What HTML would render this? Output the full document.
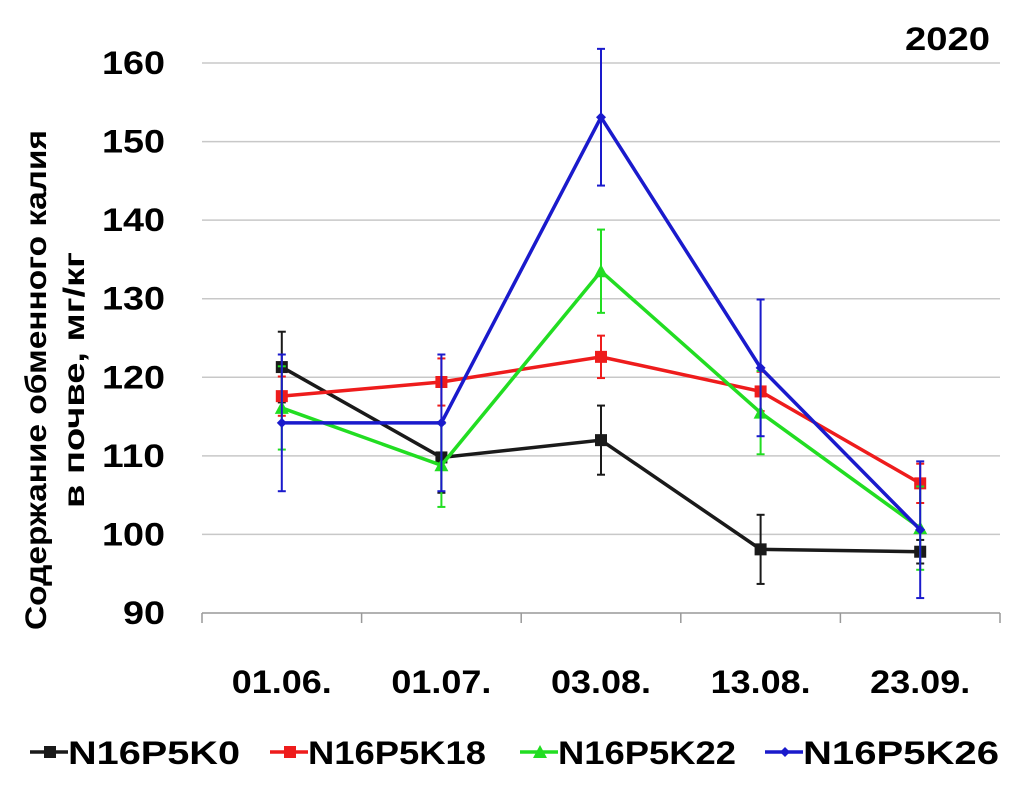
<!DOCTYPE html>
<html><head><meta charset="utf-8"><style>
body{margin:0;background:#fff;width:1022px;height:799px;overflow:hidden}
svg text{font-family:"Liberation Sans",sans-serif}
</style></head><body>
<svg id="c" width="1022" height="799">
<text x="990" y="50" font-size="32" font-weight="bold" text-anchor="end" textLength="85" lengthAdjust="spacingAndGlyphs">2020</text>
<g transform="translate(46,380) rotate(-90)">
<text x="-250" y="0" font-size="30" textLength="500" lengthAdjust="spacingAndGlyphs" style="font-weight:bold">Содержание обменного калия</text>
<text x="-128" y="38" font-size="30" textLength="256" lengthAdjust="spacingAndGlyphs" style="font-weight:bold">в почве, мг/кг</text>
</g>
</svg>
<script>
const categories=["01.06.","01.07.","03.08.","13.08.","23.09."];
const yTicks=[90,100,110,120,130,140,150,160];
const seriesNames=["N16P5K0","N16P5K18","N16P5K22","N16P5K26"];
const seriesColors=["#1a1a1a","#ee1c1c","#22dd22","#1a1acc"];
const k0=[121.3,109.8,112.0,98.1,97.8];
const k18=[117.6,119.4,122.6,118.2,106.5];
const k22=[116.1,108.8,133.5,115.5,100.8];
const k26=[114.2,114.2,153.1,121.2,100.6];
const err0=[4.5,4.5,4.4,4.4,1.5];
const err18=[2.5,3.0,2.7,2.5,2.5];
const err22=[5.3,5.3,5.3,5.3,5.3];
const err26=[8.7,8.7,8.7,8.7,8.7];
const series=[k0,k18,k22,k26], errs=[err0,err18,err22,err26];
const svg=document.getElementById('c'), NS="http://www.w3.org/2000/svg";
const x0=202,x1=1000,yTop=63,yBot=613;
const y=v=>yBot-(v-90)/70*(yBot-yTop);
const bw=(x1-x0)/categories.length;
const x=i=>x0+bw*(i+0.5);
function mk(t,a,p){const e=document.createElementNS(NS,t);for(const k in a)e.setAttribute(k,a[k]);(p||svg).appendChild(e);return e;}
yTicks.forEach(t=>{
 if(t>90){const g=mk('line',{x1:x0,x2:x1,y1:y(t),y2:y(t),stroke:'#c8c8c8','stroke-width':1.5});
 
 }
 const tx=mk('text',{x:165,y:y(t)+11,'font-size':32,'font-weight':'bold','text-anchor':'end',textLength:String(t).length*21,lengthAdjust:'spacingAndGlyphs'});tx.textContent=t;
 
 
});
const ax=mk('line',{x1:x0,x2:x1,y1:yBot,y2:yBot,stroke:'#999','stroke-width':1.5});


for(let i=0;i<=categories.length;i++){mk('line',{x1:x0+bw*i,x2:x0+bw*i,y1:yBot,y2:yBot+10,stroke:'#999','stroke-width':1.5});}
categories.forEach((c,i)=>{const t=mk('text',{x:x(i),y:693,'font-size':32,'font-weight':'bold','text-anchor':'middle',textLength:100,lengthAdjust:'spacingAndGlyphs'});t.textContent=c;
 
 });
series.forEach((s,si)=>{
 const col=seriesColors[si];
 const g=mk('g',{});
 
 
 s.forEach((v,i)=>{const e=errs[si][i];
  mk('line',{x1:x(i),x2:x(i),y1:y(v+e),y2:y(v-e),stroke:col,'stroke-width':2},g);
  mk('line',{x1:x(i)-4,x2:x(i)+4,y1:y(v+e),y2:y(v+e),stroke:col,'stroke-width':2},g);
  mk('line',{x1:x(i)-4,x2:x(i)+4,y1:y(v-e),y2:y(v-e),stroke:col,'stroke-width':2},g);});
 mk('polyline',{points:s.map((v,i)=>x(i)+','+y(v)).join(' '),fill:'none',stroke:col,'stroke-width':3.5},g);
 s.forEach((v,i)=>{
  let m;
  if(si<2) m=mk('rect',{x:x(i)-6,y:y(v)-6,width:12,height:12,fill:col},g);
  else if(si==2) m=mk('polygon',{points:`${x(i)},${y(v)-7} ${x(i)-7},${y(v)+6} ${x(i)+7},${y(v)+6}`,fill:col},g);
  else m=mk('polygon',{points:`${x(i)},${y(v)-5} ${x(i)+5},${y(v)} ${x(i)},${y(v)+5} ${x(i)-5},${y(v)}`,fill:col},g);
  
  
 });
});
const lx=[30,270,520,765];
const lw=[172,178,178,196];
seriesNames.forEach((n,i)=>{
 const g=mk('g',{});
 
 
 const col=seriesColors[i], cx=lx[i]+20, cy=752;
 mk('line',{x1:lx[i],x2:lx[i]+38,y1:cy,y2:cy,stroke:col,'stroke-width':3.5},g);
 if(i<2) mk('rect',{x:cx-6,y:cy-6,width:12,height:12,fill:col},g);
 else if(i==2) mk('polygon',{points:`${cx},${cy-7} ${cx-7},${cy+6} ${cx+7},${cy+6}`,fill:col},g);
 else mk('polygon',{points:`${cx},${cy-5} ${cx+5},${cy} ${cx},${cy+5} ${cx-5},${cy}`,fill:col},g);
 const t=mk('text',{x:lx[i]+38,y:cy+12,'font-size':32,'font-weight':'bold',textLength:lw[i],lengthAdjust:'spacingAndGlyphs'},g);t.textContent=n;
});
</script>
</body></html>
